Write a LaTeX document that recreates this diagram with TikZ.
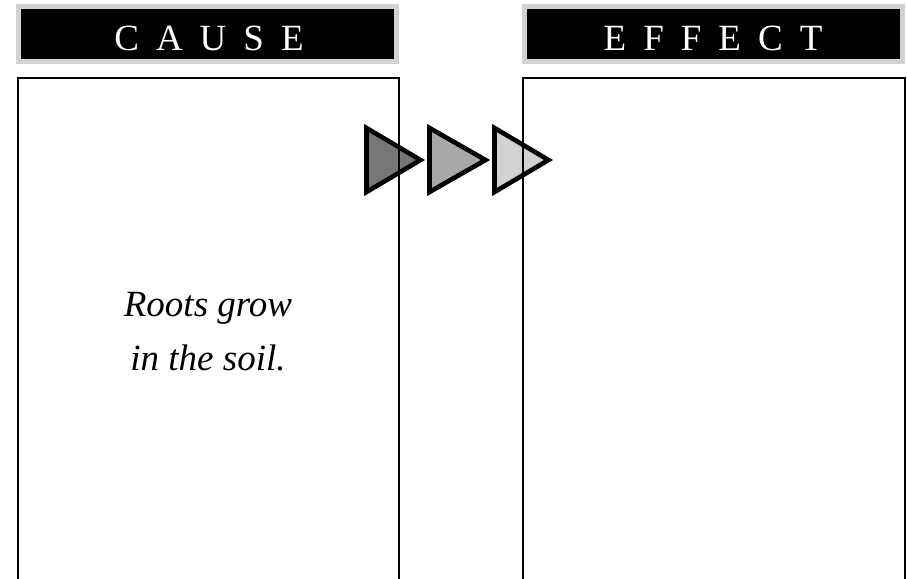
\documentclass[tikz,border=0pt]{standalone}
\usepackage{fontspec}
\setmainfont{Liberation Serif}
\definecolor{hdrgray}{HTML}{D1D2D4}
\definecolor{tridark}{HTML}{77777A}
\definecolor{trimid}{HTML}{A7A8AA}
\definecolor{trilight}{HTML}{D1D2D4}
\newcommand{\lsp}{\hspace{0.46em}}
\begin{document}
\begin{tikzpicture}[x=1pt,y=-1pt,
  header/.style={fill=black,draw=hdrgray,line width=5pt,minimum width=378pt,minimum height=55pt,inner sep=0pt},
  hdrtext/.style={text=white,anchor=base,font=\fontsize{37}{40}\selectfont,inner sep=0pt},
  panel/.style={draw=black,line width=2pt},
  tri/.style={draw=black,line width=4.6pt,line join=miter,miter limit=10}]
\useasboundingbox (0,0) rectangle (907,578);
\clip (0,0) rectangle (907,578);
% triangles (behind the panels)
\draw[tri,fill=tridark] (366.5,128) coordinate (t1a) -- (366.5,192) -- (420.5,160) coordinate (t1tip) -- cycle;
\draw[tri,fill=trimid] (429.5,128) coordinate (t2a) -- (429.5,192) -- (485.5,160) coordinate (t2tip) -- cycle;
\draw[tri,fill=trilight] (494.5,128) coordinate (t3a) -- (494.5,192) -- (548.5,160) coordinate (t3tip) -- cycle;
% headers
\node[header] (causehdr) at (207.5,34) {};
\node[header] (effecthdr) at (713,34) {};
\node[hdrtext] (causetxt) at (209,51) {C\lsp A\lsp U\lsp S\lsp E};
\node[hdrtext] (effecttxt) at (713,51) {E\lsp F\lsp F\lsp E\lsp C\lsp T};
% panels
\draw[panel] (17.5,77.5) coordinate (cpa) rectangle (399,600) coordinate (cpb);
\draw[panel] (522.5,77.5) coordinate (epa) rectangle (904.5,600) coordinate (epb);
% text
\node[align=center,inner sep=0pt,font=\fontsize{37}{54}\selectfont\itshape] (causebody) at (208,332) {Roots grow\\in the soil.};
\end{tikzpicture}
\end{document}
